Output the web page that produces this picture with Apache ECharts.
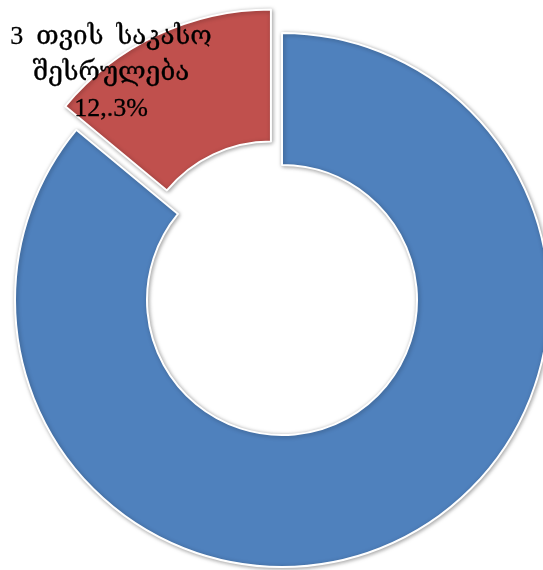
<!DOCTYPE html>
<html>
<head>
<meta charset="utf-8">
<script src="https://cdn.jsdelivr.net/npm/echarts@6/dist/echarts.min.js"></script>
<style>html,body{margin:0;padding:0;background:#fff}#c{width:543px;height:570px}</style>
</head>
<body>
<div id="c"></div>
<script>
const categories = ['დანარჩენი', '3 თვის საკასო შესრულება'];
const values = [86.0, 14.0];
const labelLines = ['3  თვის  საკასო', 'შესრულება', '12,.3%'];
const colors = ['#4F81BD', '#C0504D'];

const chart = echarts.init(document.getElementById('c'), null, {renderer: 'canvas'});
chart.setOption({
  animation: false,
  graphic: [{
    type: 'text', x: 111, y: 73,
    style: {
      text: labelLines.join('\n'), fill: '#000',
      font: '26px "Liberation Serif", "DejaVu Serif", serif',
      lineHeight: 36, align: 'center', verticalAlign: 'middle',
      stroke: '#000', lineWidth: 0.3
    },
    z: 100
  }],
  series: [{
    type: 'pie',
    center: [282, 300],
    radius: [135, 267],
    startAngle: 90,
    clockwise: true,
    selectedMode: 'single',
    selectedOffset: 26,
    itemStyle: {borderColor: '#fff', borderWidth: 2, shadowBlur: 4, shadowColor: 'rgba(0,0,0,0.35)', shadowOffsetX: 1, shadowOffsetY: 1},
    label: {show: false},
    labelLine: {show: false},
    emphasis: {disabled: true},
    data: categories.map((c, i) => ({
      name: c, value: values[i], selected: i === 1,
      itemStyle: {color: colors[i]}
    }))
  }]
});
</script>
</body>
</html>
